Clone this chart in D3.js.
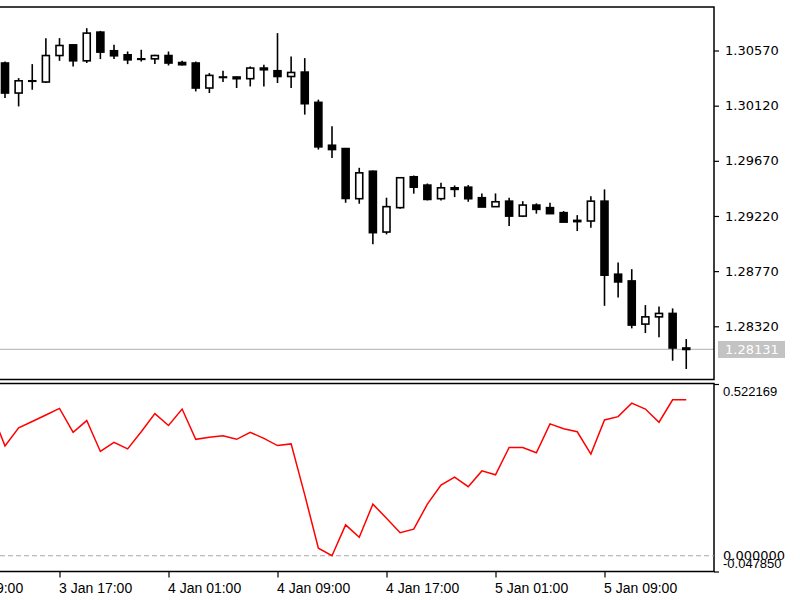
<!DOCTYPE html>
<html><head><meta charset="utf-8">
<script src="https://cdn.jsdelivr.net/npm/d3@7"></script>
<style>html,body{margin:0;padding:0;background:#fff;} svg{display:block;font-family:"DejaVu Sans",sans-serif;}</style>
</head><body><svg id="c" width="800" height="600"></svg>
<script>
// ---- data ----
const firstBar = "2018-01-03T13:00:00Z";   // hourly bars
const opens  = [1.30468,1.30223,1.30319,1.30313,1.30529,1.30616,1.30486,1.30720,1.30568,1.30535,
                1.30502,1.30502,1.30529,1.30472,1.30468,1.30264,1.30354,1.30354,1.30340,1.30427,
                1.30405,1.30358,1.30394,1.30147,1.29797,1.29770,1.29361,1.29585,1.29089,1.29288,
                1.29540,1.29472,1.29361,1.29450,1.29455,1.29369,1.29296,1.29341,1.29219,1.29309,
                1.29288,1.29247,1.29184,1.29179,1.29341,1.28745,1.28690,1.28338,1.28397,1.28425,1.28143];
const highs  = [1.30480,1.30345,1.30459,1.30671,1.30671,1.30622,1.30752,1.30730,1.30616,1.30562,
                1.30576,1.30535,1.30562,1.30486,1.30480,1.30386,1.30405,1.30356,1.30440,1.30454,
                1.30712,1.30521,1.30508,1.30169,1.29952,1.29775,1.29613,1.29591,1.29369,1.29537,
                1.29550,1.29485,1.29491,1.29469,1.29472,1.29404,1.29404,1.29369,1.29341,1.29323,
                1.29328,1.29260,1.29227,1.29382,1.29437,1.28840,1.28786,1.28493,1.28482,1.28466,1.28216];
const lows   = [1.30183,1.30114,1.30250,1.30305,1.30486,1.30440,1.30468,1.30500,1.30500,1.30459,
                1.30480,1.30459,1.30448,1.30448,1.30236,1.30223,1.30313,1.30264,1.30277,1.30277,
                1.30305,1.30264,1.30047,1.29762,1.29694,1.29328,1.29320,1.28989,1.29070,1.29280,
                1.29402,1.29347,1.29347,1.29374,1.29336,1.29293,1.29296,1.29138,1.29211,1.29239,
                1.29239,1.29170,1.29097,1.29125,1.28487,1.28555,1.28303,1.28265,1.28230,1.28039,1.27972];
const closes = [1.30223,1.30323,1.30323,1.30529,1.30611,1.30486,1.30712,1.30557,1.30527,1.30494,
                1.30498,1.30529,1.30468,1.30454,1.30264,1.30367,1.30350,1.30340,1.30427,1.30413,
                1.30358,1.30391,1.30136,1.29784,1.29762,1.29363,1.29572,1.29084,1.29296,1.29532,
                1.29455,1.29355,1.29450,1.29437,1.29361,1.29293,1.29336,1.29219,1.29309,1.29274,
                1.29239,1.29170,1.29174,1.29341,1.28737,1.28682,1.28330,1.28397,1.28425,1.28143,1.28131];
const oscFirst = "2018-01-03T12:00:00Z";
const oscValues = [0.439,0.334,0.389,0.408,0.428,0.448,0.375,0.411,0.317,0.345,0.325,
                   0.377,0.432,0.396,0.446,0.354,0.360,0.365,0.354,0.375,0.357,
                   0.335,0.340,0.185,0.023,0.000,0.094,0.056,0.157,0.114,0.070,
                   0.081,0.157,0.215,0.239,0.210,0.258,0.246,0.329,0.329,0.313,
                   0.401,0.386,0.377,0.309,0.413,0.423,0.464,0.446,0.406,0.474,0.474];
const priceTicks = [1.28320,1.28770,1.29220,1.29670,1.30120,1.30570];
const lastPrice = 1.28131;
const oscMax = 0.522169, oscMin = -0.047850, oscLevel = 0.0;
const timeTicks = ["2018-01-03T09:00:00Z","2018-01-03T17:00:00Z","2018-01-04T01:00:00Z",
                   "2018-01-04T09:00:00Z","2018-01-04T17:00:00Z","2018-01-05T01:00:00Z","2018-01-05T09:00:00Z"];

// ---- layout ----
const svg = d3.select("#c");
const R = 714, topT = 7, topB = 379.5, botT = 383.5, botB = 571.5;
const HOUR = 3600e3;
const t0 = new Date(firstBar);
const bars = opens.map((o,i)=>({t:new Date(+t0+i*HOUR),o,h:highs[i],l:lows[i],c:closes[i]}));
const osc = oscValues.map((v,i)=>({t:new Date(+new Date(oscFirst)+i*HOUR),v}));

const x = d3.scaleUtc().domain([bars[0].t, bars[bars.length-1].t]).range([5, 686.25]);
const yP = d3.scaleLinear().domain([1.27890, 1.30925]).range([379, 7]);
const yO = d3.scaleLinear().domain([oscMin, oscMax]).range([botB, 384]);

svg.append("rect").attr("width",800).attr("height",600).attr("fill","#fff");

// current price line
svg.append("line").attr("x1",0).attr("x2",R).attr("y1",yP(lastPrice)).attr("y2",yP(lastPrice))
  .attr("stroke","#c0c0c0").attr("stroke-width",1.3);

// candles
const g = svg.append("g");
const bw = 7;
g.selectAll("line.w").data(bars).join("line").attr("class","w")
  .attr("x1",d=>x(d.t)).attr("x2",d=>x(d.t)).attr("y1",d=>yP(d.h)).attr("y2",d=>yP(d.l))
  .attr("stroke","#000").attr("stroke-width",1.6);
g.selectAll("rect.b").data(bars).join("rect").attr("class","b")
  .attr("x",d=>x(d.t)-bw/2).attr("width",bw)
  .attr("y",d=>yP(Math.max(d.o,d.c)))
  .attr("height",d=>Math.max(0.4, yP(Math.min(d.o,d.c))-yP(Math.max(d.o,d.c))))
  .attr("fill",d=>d.c<d.o?"#000":"#fff").attr("stroke","#000").attr("stroke-width",1.6);

// frames
const frame = svg.append("g").attr("stroke","#000").attr("stroke-width",1.5).attr("fill","none");
frame.append("path").attr("d",`M0,${topT}H${R}V${topB}H0`);
frame.append("path").attr("d",`M0,${botT}H${R}V${botB}H0`);

// price axis
const pa = svg.append("g").attr("transform",`translate(${R},0)`)
  .call(d3.axisRight(yP).tickValues(priceTicks).tickFormat(d3.format(".5f")).tickSize(5).tickPadding(6));
pa.select(".domain").remove();
pa.selectAll("line").attr("stroke","#000").attr("stroke-width",1.2);
pa.selectAll("text").attr("font-size",13).attr("fill","#000").attr("font-family","DejaVu Sans");

// last price label
svg.append("rect").attr("x",718).attr("y",yP(lastPrice)-8.5).attr("width",67).attr("height",17).attr("fill","#c3c3c3");
svg.append("text").attr("x",725).attr("y",yP(lastPrice)).attr("dy","0.36em").attr("font-size",13)
  .attr("fill","#fff").text(d3.format(".5f")(lastPrice));

// oscillator
svg.append("line").attr("x1",0).attr("x2",R).attr("y1",yO(oscLevel)).attr("y2",yO(oscLevel))
  .attr("stroke","#a8a8a8").attr("stroke-width",1).attr("stroke-dasharray","5,3");
svg.append("path").datum(osc)
  .attr("d",d3.line().x(d=>x(d.t)).y(d=>yO(d.v)))
  .attr("fill","none").attr("stroke","#ff0000").attr("stroke-width",1.5);

const oa = svg.append("g").attr("transform",`translate(${R},0)`)
  .call(d3.axisRight(yO).tickValues([oscMax, oscMin]).tickFormat(d3.format(".6f")).tickSize(5).tickPadding(4));
oa.select(".domain").remove();
oa.selectAll("line").attr("stroke","#000").attr("stroke-width",1.2);
oa.selectAll("text").attr("font-size",13).attr("fill","#000")
  .attr("dy",d=>d===oscMax?"0.85em":"-0.3em").text(d=>d===oscMin?"-0.047850":d3.format(".6f")(d));
svg.append("text").attr("x",723).attr("y",yO(oscLevel)).attr("dy","0.3em").attr("font-size",13)
  .attr("fill","#000").text(d3.format(".6f")(oscLevel));

// time axis
const ta = svg.append("g").attr("transform",`translate(0,${botB})`)
  .call(d3.axisBottom(x).tickValues(timeTicks.map(s=>new Date(s))).tickFormat(d3.utcFormat("%-d %b %H:%M")).tickSize(6));
ta.select(".domain").remove();
ta.selectAll("line").attr("stroke","#000").attr("stroke-width",1.2);
ta.selectAll("text").attr("font-size",14).attr("fill","#000").attr("text-anchor","start")
  .attr("x",-1).attr("y",21).attr("dy",0);
</script></body></html>
